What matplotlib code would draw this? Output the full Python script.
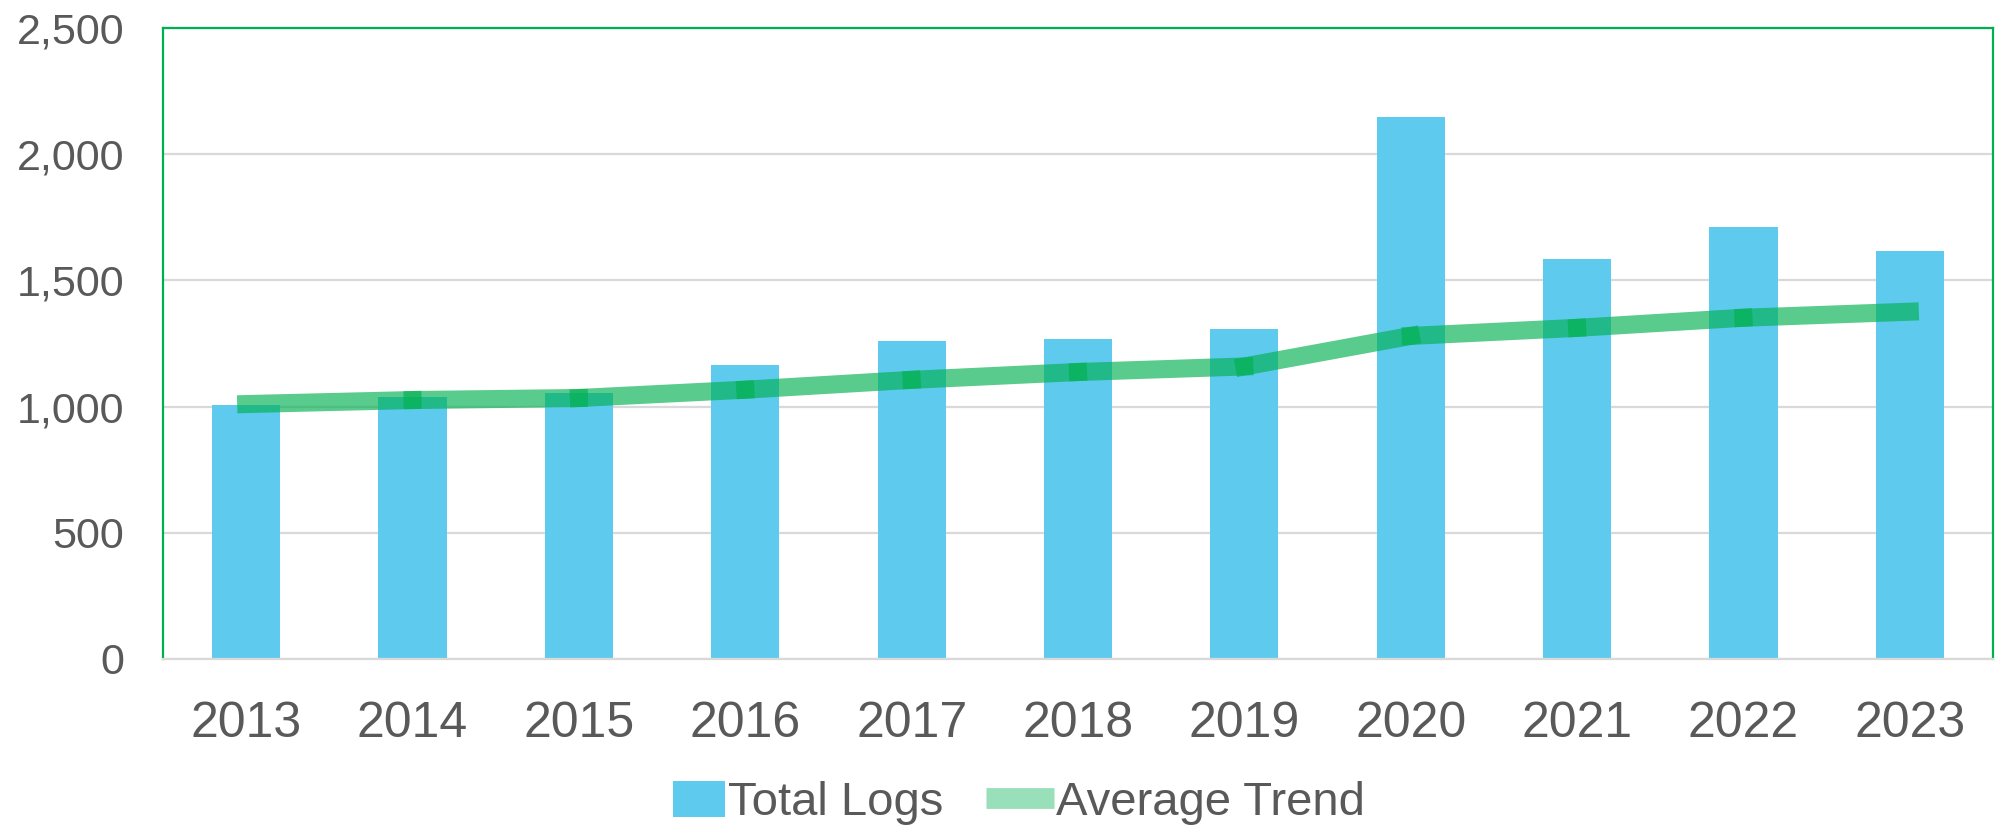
import matplotlib.pyplot as plt
import numpy as np
from matplotlib.legend_handler import HandlerPatch
from matplotlib.lines import Line2D
from matplotlib.patches import Patch, Rectangle
from matplotlib.ticker import FuncFormatter

years = ["2013", "2014", "2015", "2016", "2017", "2018", "2019", "2020", "2021", "2022", "2023"]
total_logs = [1006, 1038, 1053, 1164, 1259, 1267, 1307, 2146, 1584, 1711, 1616]
avg_trend = [1010, 1026, 1034, 1067, 1106, 1137, 1159, 1280, 1312, 1352, 1376]

BAR_COLOR = "#5ECAEE"
LINE_COLOR = "#00B050"
TEXT_COLOR = "#595959"
GRID_COLOR = "#D9D9D9"

plt.rcParams["font.family"] = ["Liberation Sans", "DejaVu Sans"]

fig = plt.figure(figsize=(19.95, 8.27), dpi=100)
ax = fig.add_axes([163 / 1995, 1 - 659 / 827, 1830 / 1995, 631 / 827])

x = np.arange(len(years))
ax.bar(x, total_logs, width=0.41, color=BAR_COLOR, zorder=2)

# each segment drawn on its own, so the joints overlap and look darker
for i in range(len(x) - 1):
    ax.plot(x[i:i + 2], avg_trend[i:i + 2], color=LINE_COLOR, alpha=0.65,
            lw=13, solid_capstyle="projecting", zorder=3)

ax.set_xlim(-0.5, len(years) - 0.5)
ax.set_ylim(0, 2500)
ax.set_yticks(np.arange(0, 2501, 500))
ax.yaxis.set_major_formatter(FuncFormatter(lambda v, _: f"{int(v):,}"))
ax.set_xticks(x)
ax.set_xticklabels(years)

ax.grid(axis="y", color=GRID_COLOR, lw=1.6, zorder=0)
ax.set_axisbelow(True)
for side in ("left", "top", "right"):
    ax.spines[side].set_color(LINE_COLOR)
    ax.spines[side].set_linewidth(1.6)
ax.spines["bottom"].set_color(GRID_COLOR)
ax.spines["bottom"].set_linewidth(1.6)

ax.tick_params(axis="y", length=0, pad=28, labelsize=31, labelcolor=TEXT_COLOR)
ax.tick_params(axis="x", length=0, pad=30, labelsize=36, labelcolor=TEXT_COLOR)


def small_box(legend, orig_handle, xdescent, ydescent, width, height, fontsize):
    w = width * 52 / 68
    return Rectangle((-xdescent + width - w, -ydescent), w, height)


handles = [
    Patch(facecolor=BAR_COLOR, edgecolor="none"),
    Line2D([0], [0], color=LINE_COLOR, alpha=0.4, lw=15, solid_capstyle="butt"),
]
fig.legend(handles, ["Total Logs", "Average Trend"], loc="center",
           bbox_to_anchor=(1011 / 1995, 1 - 803 / 827), ncol=2, frameon=False,
           fontsize=34, labelcolor=TEXT_COLOR, handlelength=1.44, handleheight=0.8,
           handletextpad=0.05, columnspacing=0.9,
           handler_map={Patch: HandlerPatch(patch_func=small_box)})

fig.savefig("out.png", dpi=100)
